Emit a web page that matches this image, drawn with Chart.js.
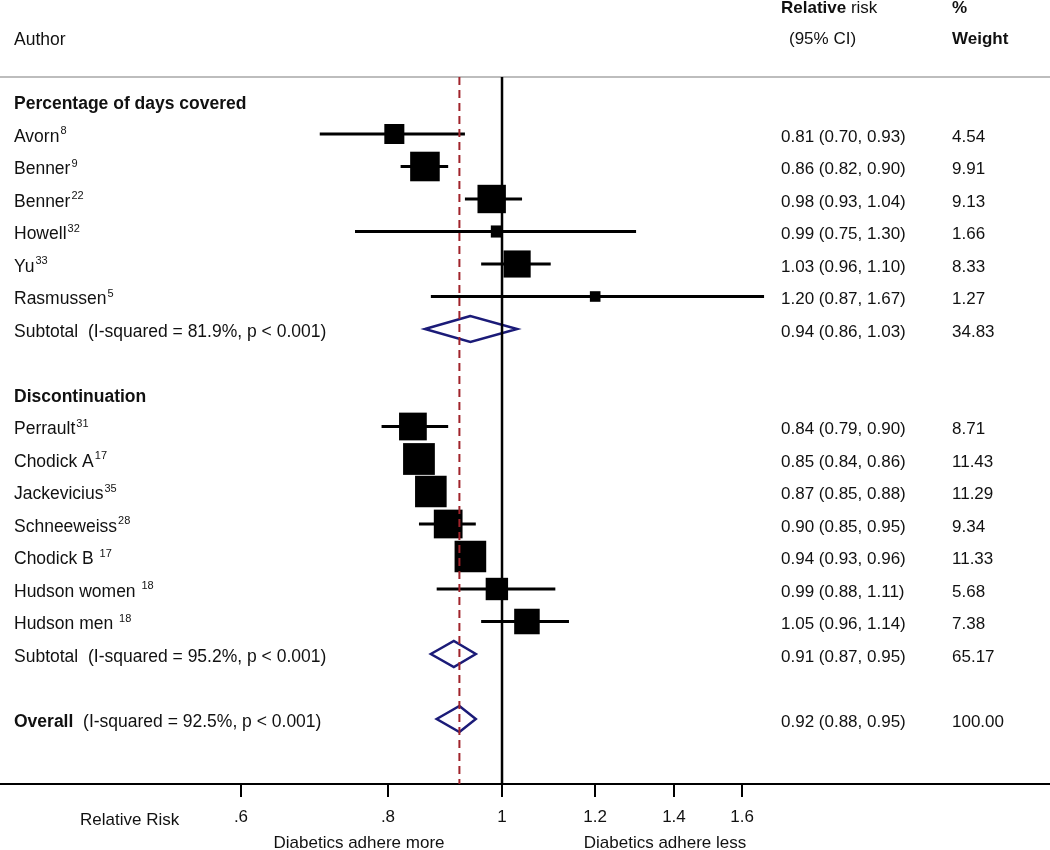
<!DOCTYPE html>
<html>
<head>
<meta charset="utf-8">
<script src="https://cdn.jsdelivr.net/npm/chart.js@4/dist/chart.umd.min.js"></script>
<style>
  body { margin: 0; background: #fff; }
  #wrap { width: 1050px; height: 850px; }
</style>
</head>
<body>
<div id="wrap"><canvas id="myChart"></canvas></div>
<script>
// studies
var Authors = ['Avorn', 'Benner', 'Benner', 'Howell', 'Yu', 'Rasmussen',
               'Perrault', 'Chodick A', 'Jackevicius', 'Schneeweiss', 'Chodick B ', 'Hudson women ', 'Hudson men '];
var Refs    = ['8', '9', '22', '32', '33', '5', '31', '17', '35', '28', '17', '18', '18'];
var Rows    = [1, 2, 3, 4, 5, 6, 10, 11, 12, 13, 14, 15, 16];
var RR      = [0.81, 0.86, 0.98, 0.99, 1.03, 1.20, 0.84, 0.85, 0.87, 0.90, 0.94, 0.99, 1.05];
var Low     = [0.70, 0.82, 0.93, 0.75, 0.96, 0.87, 0.79, 0.84, 0.85, 0.85, 0.93, 0.88, 0.96];
var High    = [0.93, 0.90, 1.04, 1.30, 1.10, 1.67, 0.90, 0.86, 0.88, 0.95, 0.96, 1.11, 1.14];
var Weights = [4.54, 9.91, 9.13, 1.66, 8.33, 1.27, 8.71, 11.43, 11.29, 9.34, 11.33, 5.68, 7.38];

// groups and pooled estimates
var Groups    = ['Percentage of days covered', 'Discontinuation'];
var GroupRows = [0, 9];
var PoolNames = ['Subtotal', 'Subtotal', 'Overall'];
var PoolHet   = ['  (I-squared = 81.9%, p < 0.001)', '  (I-squared = 95.2%, p < 0.001)', '  (I-squared = 92.5%, p < 0.001)'];
var PoolRows  = [7, 17, 19];
var PoolRR    = [0.94, 0.91, 0.92];
var PoolLow   = [0.86, 0.87, 0.88];
var PoolHigh  = [1.03, 0.95, 0.95];
var PoolW     = [34.83, 65.17, 100.00];

var XTicks = [0.6, 0.8, 1, 1.2, 1.4, 1.6];

var FONT = '"Liberation Sans", Arial, sans-serif';
var SIZE = 17;
var LSIZE = 17.5;
var SHIFT = 3;   // text sits a little below the marker rows

function fmt(v) { return v.toFixed(2); }

// CI segments, broken by gaps
var ciData = [];
for (var i = 0; i < RR.length; i++)
{
    ciData.push({x: Low[i], y: Rows[i]}, {x: High[i], y: Rows[i]}, {x: null, y: null});
}

var boxData = RR.map(function(v, i) { return {x: v, y: Rows[i]}; });

var diamondData = [];
for (var j = 0; j < PoolRR.length; j++)
{
    var r = PoolRows[j];
    diamondData.push({x: PoolLow[j], y: r}, {x: PoolRR[j], y: r - 0.4}, {x: PoolHigh[j], y: r},
                     {x: PoolRR[j], y: r + 0.4}, {x: PoolLow[j], y: r}, {x: PoolRR[j], y: r - 0.4},
                     {x: null, y: null});
}

var TOPROW = -0.75, AXISROW = 21;

var textPlugin = {
    id: 'forestText',
    beforeDatasetsDraw: function(chart)
    {
        var ctx = chart.ctx, a = chart.chartArea, ys = chart.scales.y;
        var yy = ys.getPixelForValue(TOPROW);
        ctx.save();
        ctx.strokeStyle = '#bdbdbd';
        ctx.lineWidth = 2;
        ctx.beginPath();
        ctx.moveTo(a.left, yy);
        ctx.lineTo(a.right, yy);
        ctx.stroke();
        ctx.restore();
    },
    afterDraw: function(chart)
    {
        var ctx = chart.ctx, ys = chart.scales.y, a = chart.chartArea;
        ctx.save();
        ctx.fillStyle = '#111';
        ctx.textBaseline = 'middle';
        ctx.textAlign = 'left';

        function put(txt, x, row, bold, size, dy)
        {
            ctx.font = (bold ? 'bold ' : '') + (size || SIZE) + 'px ' + FONT;
            ctx.fillText(txt, x, ys.getPixelForValue(row) + (dy === undefined ? SHIFT : dy));
            return ctx.measureText(txt).width;
        }

        // header
        var w = put('Relative', 781, -2.88, true, SIZE, 0);
        put(' risk', 781 + w, -2.88, false, SIZE, 0);
        put('%', 952, -2.88, true, SIZE, 0);
        put('Author', 14, -1.9, false, LSIZE, 0);
        put('(95% CI)', 789, -1.9, false, SIZE, 0);
        put('Weight', 952, -1.9, true, SIZE, 0);

        for (var g = 0; g < Groups.length; g++)
        {
            put(Groups[g], 14, GroupRows[g], true, LSIZE);
        }

        for (var i = 0; i < Authors.length; i++)
        {
            var nw = put(Authors[i], 14, Rows[i], false, LSIZE);
            ctx.font = '11px ' + FONT;
            ctx.fillText(Refs[i], 14 + nw + 1, ys.getPixelForValue(Rows[i]) + SHIFT - 6);
            put(fmt(RR[i]) + ' (' + fmt(Low[i]) + ', ' + fmt(High[i]) + ')', 781, Rows[i], false);
            put(fmt(Weights[i]), 952, Rows[i], false);
        }

        for (var k = 0; k < PoolRR.length; k++)
        {
            var pw = put(PoolNames[k], 14, PoolRows[k], k === 2, LSIZE);
            put(PoolHet[k], 14 + pw, PoolRows[k], false, LSIZE);
            put(fmt(PoolRR[k]) + ' (' + fmt(PoolLow[k]) + ', ' + fmt(PoolHigh[k]) + ')', 781, PoolRows[k], false);
            put(fmt(PoolW[k]), 952, PoolRows[k], false);
        }

        // axis captions
        ctx.font = SIZE + 'px ' + FONT;
        ctx.fillText('Relative Risk', 80, a.bottom + 36);
        ctx.textAlign = 'center';
        ctx.fillText('Diabetics adhere more', 359, a.bottom + 59);
        ctx.fillText('Diabetics adhere less', 665, a.bottom + 59);
        ctx.restore();
    }
};

var ctx = document.getElementById('myChart').getContext('2d');
var chart = new Chart(ctx, {
    type: 'scatter',
    data: {
        datasets: [
            {
                label: 'no effect',
                data: [{x: 1, y: TOPROW}, {x: 1, y: AXISROW}],
                showLine: true, borderColor: '#000', borderWidth: 2.5, pointRadius: 0
            },
            {
                label: 'overall',
                data: [{x: PoolRR[2], y: TOPROW}, {x: PoolRR[2], y: AXISROW}],
                showLine: true, borderColor: '#a0232b', borderWidth: 2, borderDash: [8, 5], pointRadius: 0
            },
            {
                label: 'ci',
                data: ciData,
                showLine: true, spanGaps: false, borderColor: '#000', borderWidth: 3, pointRadius: 0
            },
            {
                label: 'studies',
                data: boxData,
                pointStyle: 'rect',
                pointRadius: function(c) { return 9.4 * Math.sqrt(Weights[c.dataIndex]) / Math.SQRT2; },
                backgroundColor: '#000', borderColor: '#000', borderWidth: 0
            },
            {
                label: 'pooled',
                data: diamondData,
                showLine: true, spanGaps: false, borderColor: '#1b1b78', borderWidth: 2.5, pointRadius: 0,
                borderJoinStyle: 'miter'
            }
        ]
    },
    options: {
        responsive: true,
        maintainAspectRatio: false,
        animation: false,
        events: [],
        layout: { padding: 0, autoPadding: false },
        plugins: { legend: { display: false }, tooltip: { enabled: false } },
        scales: {
            x: {
                type: 'logarithmic',
                position: 'bottom',
                min: 0.3744,
                max: 2.9224,
                afterBuildTicks: function(s) { s.ticks = XTicks.map(function(v) { return {value: v}; }); },
                afterFit: function(s) { s.height = 66; },
                ticks: {
                    autoSkip: false, maxRotation: 0, padding: 10, color: '#111',
                    font: { family: FONT, size: SIZE },
                    callback: function(v) { return v < 1 ? String(v).replace(/^0/, '') : String(v); }
                },
                grid: { drawOnChartArea: false, drawTicks: true, tickLength: 13, color: '#000', lineWidth: 2 },
                border: { display: true, color: '#000', width: 2 }
            },
            y: {
                type: 'linear',
                min: -3.123,
                max: AXISROW,
                reverse: true,
                display: false
            }
        }
    },
    plugins: [textPlugin]
});
</script>
</body>
</html>
